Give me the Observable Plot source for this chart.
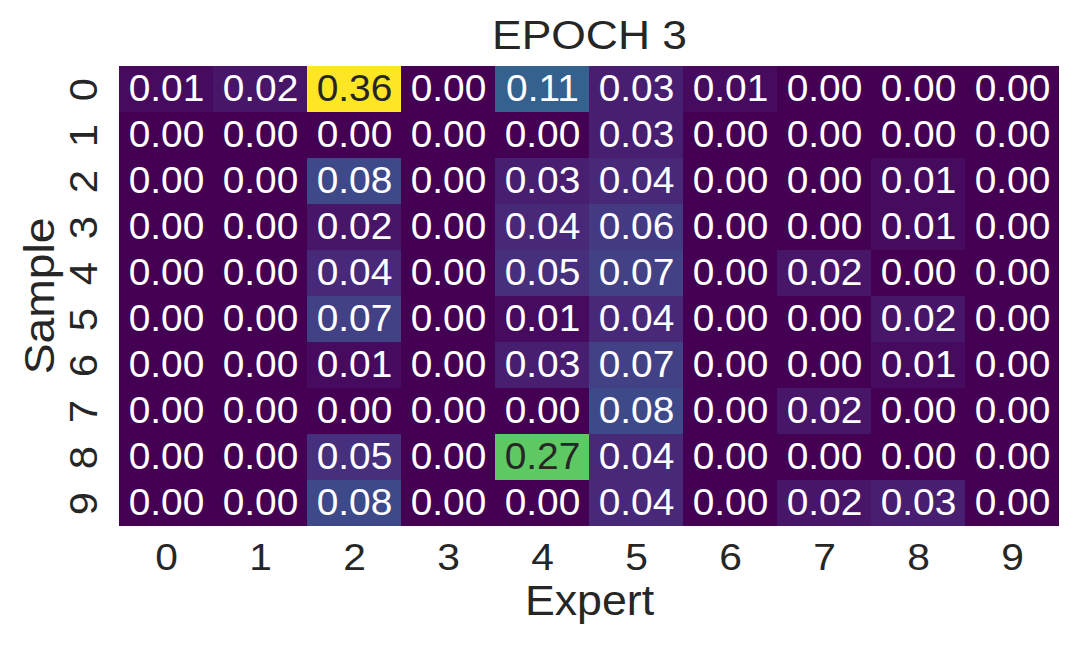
<!DOCTYPE html>
<html>
<head>
<meta charset="utf-8">
<script src="https://cdn.jsdelivr.net/npm/d3@7"></script>
<script src="https://cdn.jsdelivr.net/npm/@observablehq/plot@0.6"></script>
<style>
  html, body { margin: 0; padding: 0; background: #ffffff; }
  #chart { width: 1080px; height: 648px; }
</style>
</head>
<body>
<div id="chart"></div>
<script>
const title = "EPOCH 3";
const xLabel = "Expert";
const yLabel = "Sample";
const experts = [0, 1, 2, 3, 4, 5, 6, 7, 8, 9];
const samples = [0, 1, 2, 3, 4, 5, 6, 7, 8, 9];
// rows = samples, columns = experts
const weights = [
  [0.01, 0.02, 0.36, 0.00, 0.11, 0.03, 0.01, 0.00, 0.00, 0.00],
  [0.00, 0.00, 0.00, 0.00, 0.00, 0.03, 0.00, 0.00, 0.00, 0.00],
  [0.00, 0.00, 0.08, 0.00, 0.03, 0.04, 0.00, 0.00, 0.01, 0.00],
  [0.00, 0.00, 0.02, 0.00, 0.04, 0.06, 0.00, 0.00, 0.01, 0.00],
  [0.00, 0.00, 0.04, 0.00, 0.05, 0.07, 0.00, 0.02, 0.00, 0.00],
  [0.00, 0.00, 0.07, 0.00, 0.01, 0.04, 0.00, 0.00, 0.02, 0.00],
  [0.00, 0.00, 0.01, 0.00, 0.03, 0.07, 0.00, 0.00, 0.01, 0.00],
  [0.00, 0.00, 0.00, 0.00, 0.00, 0.08, 0.00, 0.02, 0.00, 0.00],
  [0.00, 0.00, 0.05, 0.00, 0.27, 0.04, 0.00, 0.00, 0.00, 0.00],
  [0.00, 0.00, 0.08, 0.00, 0.00, 0.04, 0.00, 0.02, 0.03, 0.00]
];

const cells = [];
samples.forEach((s, i) => experts.forEach((e, j) => cells.push({sample: s, expert: e, value: weights[i][j]})));
const vmax = d3.max(cells, d => d.value);
const darkText = d => d.value / vmax > 0.6;

const ink = "#262626";
const chart = Plot.plot({
  width: 1080,
  height: 648,
  marginLeft: 119,
  marginRight: 21,
  marginTop: 62,
  marginBottom: 119,
  style: {fontFamily: "'Liberation Sans', Arial, sans-serif", background: "#ffffff"},
  x: {type: "band", domain: experts, padding: 0, axis: null},
  y: {type: "band", domain: samples, padding: 0, axis: null},
  color: {type: "linear", scheme: "viridis", domain: [0, vmax]},
  marks: [
    Plot.cell(cells, {x: "expert", y: "sample", fill: "value", inset: 0}),
    Plot.text(cells.filter(d => !darkText(d)), {x: "expert", y: "sample", text: d => d.value.toFixed(2), fill: "white", fontSize: 36}),
    Plot.text(cells.filter(darkText), {x: "expert", y: "sample", text: d => d.value.toFixed(2), fill: ink, fontSize: 36}),
    // x tick labels
    Plot.text(experts, {x: d => d, frameAnchor: "bottom", dy: 29, text: d => String(d), fill: ink, fontSize: 37, lineAnchor: "middle"}),
    // y tick labels (rotated)
    Plot.text(samples, {y: d => d, frameAnchor: "left", dx: -35, text: d => String(d), fill: ink, fontSize: 38, rotate: -90, textAnchor: "middle", lineAnchor: "middle"}),
    // axis labels
    Plot.text([xLabel], {frameAnchor: "bottom", dy: 72, text: d => d, fill: ink, fontSize: 43, lineAnchor: "middle"}),
    Plot.text([yLabel], {frameAnchor: "left", dx: -79, text: d => d, fill: ink, fontSize: 42, rotate: -90, textAnchor: "middle", lineAnchor: "middle"}),
    // title
    Plot.text([title], {frameAnchor: "top", dy: -26, text: d => d, fill: ink, fontSize: 40, lineAnchor: "middle"})
  ]
});
document.getElementById("chart").appendChild(chart);

// The reference typeface is slightly wider than Liberation Sans: widen glyphs along the text direction.
const widen = [1.08, 1.08, 1.1, 1.1, 1.04, 1.1, 1.11];
d3.select(chart).selectAll('g[aria-label="text"]').each(function(_, i) {
  const k = widen[i] || 1;
  d3.select(this).selectAll("text").each(function() {
    const len = this.getComputedTextLength();
    this.setAttribute("textLength", (len * k).toFixed(2));
    this.setAttribute("lengthAdjust", "spacingAndGlyphs");
  });
});
</script>
</body>
</html>
